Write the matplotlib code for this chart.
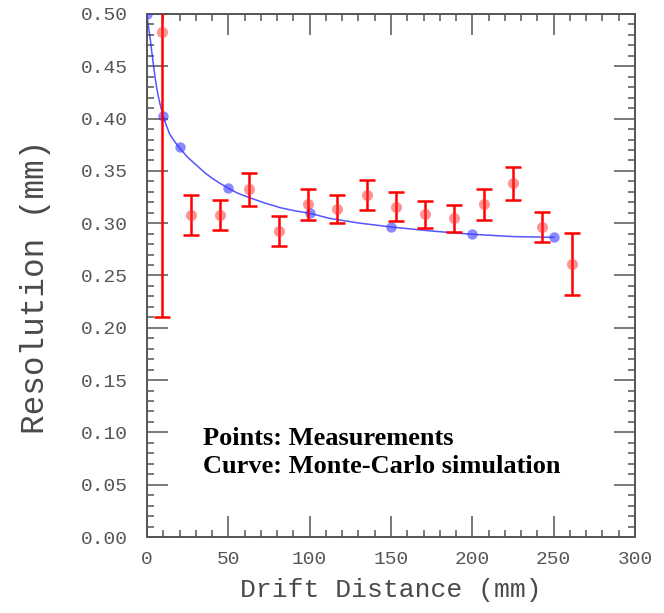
import numpy as np
import matplotlib
matplotlib.use("Agg")
import matplotlib.pyplot as plt
from matplotlib.ticker import MultipleLocator

# measured points (red)
meas_x = [9, 27, 45, 63, 81, 99, 117, 135, 153, 171, 189, 207, 225, 243, 261]
meas_y = [0.4825, 0.3078, 0.3078, 0.3324, 0.2925, 0.3181, 0.3139, 0.3270,
          0.3158, 0.3085, 0.3047, 0.3181, 0.3382, 0.2967, 0.2610]
meas_err = [0.272, 0.0193, 0.0147, 0.0155, 0.0140, 0.0147, 0.0134, 0.0140,
            0.0139, 0.0130, 0.0128, 0.0148, 0.0159, 0.0142, 0.0292]

# Monte-Carlo points (blue)
mc_x = [0, 10, 20, 50, 100, 150, 200, 250]
mc_y = [0.500, 0.4025, 0.3725, 0.3334, 0.3095, 0.2964, 0.2894, 0.2865]

# Monte-Carlo curve
curve_x = [0, 1, 2, 3, 4, 5, 6, 7, 8, 9, 10, 12, 14, 17, 20, 25, 30, 35,
           40, 45, 50, 56, 63, 72, 82, 91, 100, 112, 130, 150, 175, 200,
           225, 250]
curve_y = [0.498, 0.487, 0.476, 0.463, 0.451, 0.439, 0.429, 0.421, 0.414,
           0.408, 0.402, 0.393, 0.385, 0.378, 0.372, 0.363, 0.356, 0.349,
           0.343, 0.338, 0.3334, 0.3285, 0.3244, 0.3195, 0.3148, 0.3118,
           0.3095, 0.3047, 0.3002, 0.2964, 0.2925, 0.2894, 0.2872, 0.2865]

gray = "#555555"
mono = "Liberation Mono"

fig = plt.figure(figsize=(6.64, 6.13), dpi=100)
ax = fig.add_axes([147/664, 76/613, 488/664, 523/613])

ax.plot(curve_x, curve_y, color="#2a2aff", lw=1.1, alpha=0.8, zorder=2,
        solid_joinstyle="round")
ax.plot(mc_x, mc_y, "o", color="#3c3cff", alpha=0.6, ms=7.5, mec="none", zorder=3)

ax.errorbar(meas_x, meas_y, yerr=meas_err, fmt="none", ecolor="#ff0000",
            elinewidth=1.8, capsize=5.5, capthick=1.8, zorder=4)
ax.plot(meas_x, meas_y, "o", color="#ff2a2a", alpha=0.5, ms=8, mec="none", zorder=5)

ax.set_xlim(0, 300)
ax.set_ylim(0, 0.5)
ax.xaxis.set_major_locator(MultipleLocator(50))
ax.xaxis.set_minor_locator(MultipleLocator(10))
ax.yaxis.set_major_locator(MultipleLocator(0.05))
ax.yaxis.set_minor_locator(MultipleLocator(0.01))
ax.yaxis.set_major_formatter(plt.FuncFormatter(lambda v, p: "%.2f" % v))

ax.tick_params(which="both", direction="in", top=True, right=True,
               color=gray, width=1.1)
ax.tick_params(which="major", length=15)
ax.tick_params(which="minor", length=5)
ax.tick_params(axis="y", which="major", pad=14)
ax.tick_params(axis="x", which="major", pad=10)
for lab in ax.get_xticklabels() + ax.get_yticklabels():
    lab.set_fontfamily(mono)
    lab.set_fontsize(14)
    lab.set_color(gray)
for s in ax.spines.values():
    s.set_color(gray)
    s.set_linewidth(1.4)

ax.set_xlabel("Drift Distance (mm)", fontfamily=mono, fontsize=19, color="#4a4a4a")
ax.set_ylabel("Resolution (mm)", fontfamily=mono, fontsize=23.5, color="#4a4a4a")
ax.xaxis.set_label_coords(0.5, -0.101)
ax.yaxis.set_label_coords(-0.2295, 0.478)
ax.xaxis.label.set_va("center")
ax.yaxis.label.set_va("center")

ax.text(34.4, 0.088, "Points: Measurements", fontfamily="Liberation Serif",
        fontweight="bold", fontsize=19, va="baseline")
ax.text(34.4, 0.061, "Curve: Monte-Carlo simulation", fontfamily="Liberation Serif",
        fontweight="bold", fontsize=19, va="baseline")

fig.savefig("out.png", dpi=100)
